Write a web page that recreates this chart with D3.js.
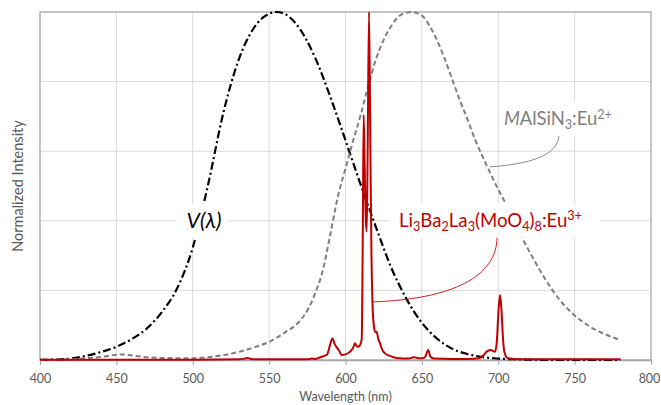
<!DOCTYPE html>
<html>
<head>
<meta charset="utf-8">
<script src="https://cdn.jsdelivr.net/npm/d3@7"></script>
<style>
  html, body { margin: 0; padding: 0; background: #fff; }
  svg { display: block; font-family: Lato, "Open Sans", "Noto Sans", sans-serif; }
</style>
</head>
<body>
<svg id="chart" width="661" height="405"></svg>
<script>
// ---- axis ticks ----
const xTicks = [400, 450, 500, 550, 600, 650, 700, 750, 800];
const yGrid = [0.2, 0.4, 0.6, 0.8];

// ---- CIE photopic luminosity function V(λ) ----
const vWl  = [400, 410, 420, 430, 440, 450, 460, 470, 480, 490, 500, 510, 520, 530, 540, 550, 555, 560, 570, 580, 590, 600, 610, 620, 630, 640, 650, 660, 670, 680, 690, 700, 710, 720, 730, 740, 750, 760, 770, 780];
const vVal = [0.0004, 0.0012, 0.004, 0.0116, 0.023, 0.038, 0.06, 0.091, 0.139, 0.208, 0.323, 0.503, 0.71, 0.862, 0.954, 0.995, 1.0, 0.995, 0.952, 0.87, 0.757, 0.631, 0.503, 0.381, 0.265, 0.175, 0.107, 0.061, 0.032, 0.017, 0.0082, 0.0041, 0.0021, 0.001, 0.0005, 0.0002, 0.0001, 0.0001, 0.0, 0.0];

// ---- MAlSiN3:Eu2+ emission ----
const gWl  = [400, 410, 420, 430, 440, 445, 450, 455, 460, 470, 480, 490, 500, 510, 520, 530, 540, 550, 560, 570, 576, 580, 585, 590, 595, 600, 605, 610, 615, 620, 625, 630, 635, 640, 643, 650, 655, 660, 665, 670, 675, 680, 685, 690, 695, 700, 705, 710, 715, 720, 725, 730, 740, 750, 760, 770, 780];
const gVal = [0.0, 0.001, 0.002, 0.005, 0.009, 0.012, 0.015, 0.016, 0.013, 0.008, 0.006, 0.005, 0.005, 0.008, 0.014, 0.023, 0.036, 0.052, 0.078, 0.112, 0.15, 0.19, 0.255, 0.36, 0.47, 0.55, 0.63, 0.705, 0.79, 0.865, 0.92, 0.96, 0.988, 0.998, 1.0, 0.99, 0.96, 0.918, 0.865, 0.805, 0.745, 0.69, 0.632, 0.582, 0.535, 0.49, 0.448, 0.40, 0.356, 0.315, 0.275, 0.238, 0.174, 0.128, 0.096, 0.074, 0.057];

// ---- Li3Ba2La3(MoO4)8:Eu3+ emission ----
const rWl  = [400, 420, 450, 500, 530, 534, 536, 538, 545, 560, 575, 578, 580, 583, 586, 588, 590, 591.4, 593, 594.6, 596, 597.5, 600, 603, 605, 606.2, 607.7, 609, 610.6, 611.3, 611.9, 612.6, 613.3, 613.9, 614.5, 615.4, 616.3, 617, 617.6, 618.5, 619.5, 620.4, 621.5, 622.6, 624, 625.9, 629, 633.5, 641, 645, 647, 650, 652, 654.2, 655.5, 658, 670, 680, 688, 690, 692.4, 695, 697.9, 699, 700.3, 701.2, 702, 703.3, 704, 706, 710, 720, 750, 780];
const rVal = [0.001, 0.001, 0.001, 0.001, 0.002, 0.004, 0.006, 0.003, 0.002, 0.002, 0.002, 0.004, 0.003, 0.007, 0.012, 0.016, 0.045, 0.062, 0.045, 0.034, 0.025, 0.014, 0.016, 0.024, 0.035, 0.048, 0.038, 0.04, 0.06, 0.35, 0.704, 0.55, 0.40, 0.369, 0.6, 1.0, 0.6, 0.3, 0.172, 0.1, 0.08, 0.081, 0.06, 0.048, 0.03, 0.019, 0.012, 0.006, 0.004, 0.008, 0.006, 0.005, 0.008, 0.029, 0.01, 0.004, 0.003, 0.003, 0.006, 0.012, 0.024, 0.029, 0.024, 0.05, 0.15, 0.187, 0.15, 0.05, 0.024, 0.006, 0.003, 0.002, 0.002, 0.002];

// ---- layout ----
const W = 661, H = 405;
const margin = { top: 12, right: 10, bottom: 45, left: 40 };
const svg = d3.select("#chart");

const x = d3.scaleLinear().domain([400, 800]).range([margin.left, W - margin.right]);
const y = d3.scaleLinear().domain([0, 1]).range([H - margin.bottom, margin.top]);

const gridColor = "#d9d9d9";
const frameColor = "#a6a6a6";
const textColor = "#595959";

// gridlines
svg.append("g").selectAll("line.v")
  .data(xTicks.filter(t => t > 400 && t < 800))
  .join("line")
  .attr("x1", d => x(d)).attr("x2", d => x(d))
  .attr("y1", y(0)).attr("y2", y(1))
  .attr("stroke", gridColor).attr("stroke-width", 1);

svg.append("g").selectAll("line.h")
  .data(yGrid)
  .join("line")
  .attr("x1", x(400)).attr("x2", x(800))
  .attr("y1", d => y(d)).attr("y2", d => y(d))
  .attr("stroke", gridColor).attr("stroke-width", 1);

// plot frame
svg.append("rect")
  .attr("x", x(400)).attr("y", y(1))
  .attr("width", x(800) - x(400)).attr("height", y(0) - y(1))
  .attr("fill", "none").attr("stroke", frameColor).attr("stroke-width", 1.3);

// x axis
const xAxis = svg.append("g")
  .attr("transform", `translate(0,${y(0)})`)
  .call(d3.axisBottom(x).tickValues(xTicks).tickSize(5).tickPadding(9).tickSizeOuter(0));
xAxis.select(".domain").attr("stroke", frameColor).attr("stroke-width", 1.3);
xAxis.selectAll(".tick line").attr("stroke", frameColor);
xAxis.selectAll(".tick text")
  .attr("fill", textColor)
  .style("font-size", "12.5px")
  .style("font-family", "Lato, 'Open Sans', sans-serif");
// keep the last tick label inside the page edge
xAxis.selectAll(".tick text").filter(d => d === 800).attr("dx", "-2");

// axis titles
svg.append("text")
  .attr("x", (x(400) + x(800)) / 2).attr("y", 401)
  .attr("text-anchor", "middle")
  .attr("fill", textColor)
  .style("font-size", "12.5px")
  .text("Wavelength (nm)");

svg.append("text")
  .attr("transform", `translate(23,${(y(0) + y(1)) / 2}) rotate(-90)`)
  .attr("text-anchor", "middle")
  .attr("fill", textColor)
  .style("font-size", "14.5px")
  .text("Normalized Intensity");

// curves
const line = d3.line()
  .x(d => x(d[0]))
  .y(d => y(d[1]))
  .curve(d3.curveMonotoneX);

svg.append("path")
  .datum(d3.zip(vWl, vVal))
  .attr("d", line)
  .attr("fill", "none")
  .attr("stroke", "#000")
  .attr("stroke-width", 2.2)
  .attr("stroke-dasharray", "8,3,2,3");

svg.append("path")
  .datum(d3.zip(gWl, gVal))
  .attr("d", line)
  .attr("fill", "none")
  .attr("stroke", "#7f7f7f")
  .attr("stroke-width", 2)
  .attr("stroke-dasharray", "5,3");

svg.append("path")
  .datum(d3.zip(rWl, rVal))
  .attr("d", line)
  .attr("fill", "none")
  .attr("stroke", "#c00000")
  .attr("stroke-width", 2)
  .attr("stroke-linejoin", "round");

// leader lines
const leaderGray = d3.path();
leaderGray.moveTo(x(739.8), y(0.647));
leaderGray.bezierCurveTo(x(739.2), y(0.60), x(728), y(0.565), x(694.6), y(0.555));
svg.append("path").attr("d", leaderGray.toString())
  .attr("fill", "none").attr("stroke", "#8c8c8c").attr("stroke-width", 1);

const leaderRed = d3.path();
leaderRed.moveTo(x(699.2), y(0.353));
leaderRed.bezierCurveTo(x(699.2), y(0.24), x(670), y(0.175), x(618), y(0.167));
svg.append("path").attr("d", leaderRed.toString())
  .attr("fill", "none").attr("stroke", "#d02020").attr("stroke-width", 1);

// annotation labels on white boxes; sub/superscripts are shifted with dy
// (in em of their own size) and the following run shifts back
const SMALL = 0.68, SUB = 0.30, SUP = 0.55;
function label(parts, cx, cy, width, color, padL, padR) {
  const g = svg.append("g");
  const box = g.append("rect").attr("fill", "#fff");
  const t = g.append("text")
    .attr("x", cx).attr("y", cy + 6)
    .attr("text-anchor", "middle")
    .attr("fill", color)
    .style("font-size", "17px");
  let shift = 0; // current offset in units of the base font size
  parts.forEach(p => {
    const s = t.append("tspan").text(p.t);
    if (p.i) s.style("font-style", "italic");
    let target = 0;
    if (p.sub) target = SUB * SMALL;
    if (p.sup) target = -SUP * SMALL;
    const rel = (p.sub || p.sup) ? SMALL : 1;
    if (rel !== 1) s.style("font-size", (SMALL * 100) + "%");
    const d = target - shift;
    if (d !== 0) s.attr("dy", (d / rel).toFixed(3) + "em");
    shift = target;
  });
  // size the label to span the requested width
  const w0 = t.node().getComputedTextLength();
  const fs = 17 * width / w0;
  t.style("font-size", fs.toFixed(2) + "px").attr("y", cy + fs * 0.35);
  const w = t.node().getComputedTextLength();
  box.attr("x", cx - w / 2 - padL).attr("y", cy - 17)
    .attr("width", w + padL + padR).attr("height", 34);
  return g;
}

label([{ t: "V(λ)", i: true }], x(507.4), y(0.4), 35, "#000", 10, 6);

label([
  { t: "M", i: true }, { t: "AlSiN" }, { t: "3", sub: true }, { t: ":Eu" }, { t: "2+", sup: true }
], x(739), 119, 108, "#7f7f7f", 4, 5);

label([
  { t: "Li" }, { t: "3", sub: true }, { t: "Ba" }, { t: "2", sub: true }, { t: "La" }, { t: "3", sub: true },
  { t: "(MoO" }, { t: "4", sub: true }, { t: ")" }, { t: "8", sub: true }, { t: ":Eu" }, { t: "3+", sup: true }
], x(694.9), y(0.4), 183, "#c00000", 9, 18);
</script>
</body>
</html>
